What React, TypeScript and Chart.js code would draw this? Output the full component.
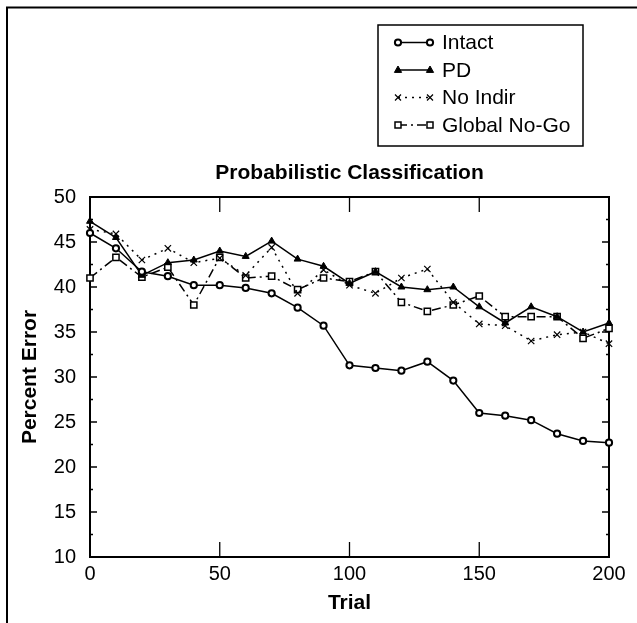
import React, { useEffect, useRef } from 'react';
import { Chart, registerables } from 'chart.js';

Chart.register(...registerables);

const trials = [0, 10, 20, 30, 40, 50, 60, 70, 80, 90, 100, 110, 120, 130, 140, 150, 160, 170, 180, 190, 200];
const intact = [46.0, 44.3, 41.7, 41.2, 40.2, 40.2, 39.9, 39.3, 37.7, 35.7, 31.3, 31.0, 30.7, 31.7, 29.6, 26.0, 25.7, 25.2, 23.7, 22.9, 22.7];
const pd = [47.3, 45.5, 41.3, 42.7, 43.0, 44.0, 43.4, 45.1, 43.1, 42.3, 40.4, 41.7, 40.0, 39.7, 40.0, 37.8, 36.0, 37.8, 36.7, 35.0, 36.0];
const noIndir = [46.4, 45.9, 43.0, 44.3, 42.7, 43.2, 41.3, 44.4, 39.3, 41.9, 40.2, 39.3, 41.0, 42.0, 38.3, 35.9, 35.7, 34.0, 34.7, 35.0, 33.7];
const globalNoGo = [41.0, 43.3, 41.1, 42.2, 38.0, 43.3, 41.0, 41.2, 39.7, 41.0, 40.6, 41.7, 38.3, 37.3, 38.0, 39.0, 36.7, 36.7, 36.7, 34.3, 35.4];

const seriesNames = ['Intact', 'PD', 'No Indir', 'Global No-Go'];
const chartTitle = 'Probabilistic Classification';
const xTitle = 'Trial';
const yTitle = 'Percent Error';

const FONT = '"Liberation Sans", Arial, Helvetica, sans-serif';

type Kind = 'circle' | 'triangle' | 'cross' | 'rect';
const kinds: Kind[] = ['circle', 'triangle', 'cross', 'rect'];
const dashes: number[][] = [[], [], [2, 5], [9, 4, 2, 4]];

function drawMarker(ctx: CanvasRenderingContext2D, kind: Kind, x: number, y: number) {
  ctx.save();
  ctx.setLineDash([]);
  ctx.strokeStyle = '#000';
  switch (kind) {
    case 'circle':
      ctx.beginPath();
      ctx.arc(x, y, 3.1, 0, Math.PI * 2);
      ctx.fillStyle = '#fff';
      ctx.fill();
      ctx.lineWidth = 2;
      ctx.stroke();
      break;
    case 'triangle':
      ctx.beginPath();
      ctx.moveTo(x, y - 4);
      ctx.lineTo(x + 3.6, y + 2.4);
      ctx.lineTo(x - 3.6, y + 2.4);
      ctx.closePath();
      ctx.fillStyle = '#000';
      ctx.fill();
      ctx.lineWidth = 1;
      ctx.stroke();
      break;
    case 'cross':
      ctx.lineWidth = 1.2;
      ctx.beginPath();
      ctx.moveTo(x - 3, y - 3);
      ctx.lineTo(x + 3, y + 3);
      ctx.moveTo(x + 3, y - 3);
      ctx.lineTo(x - 3, y + 3);
      ctx.stroke();
      break;
    case 'rect':
      ctx.fillStyle = '#fff';
      ctx.fillRect(x - 3, y - 3, 6, 6);
      ctx.lineWidth = 1.5;
      ctx.strokeRect(x - 3, y - 3, 6, 6);
      break;
  }
  ctx.restore();
}

const axesPlugin = {
  id: 'axesFrame',
  beforeDatasetsDraw(chart: any) {
    const { ctx, chartArea: a, scales } = chart;
    const xs = scales.x;
    const ys = scales.y;
    ctx.save();
    ctx.strokeStyle = '#000';
    ctx.lineWidth = 1.3;
    ctx.beginPath();
    for (let v = 10; v <= 50; v += 2.5) {
      const y = ys.getPixelForValue(v);
      const len = v % 5 === 0 ? 7 : 3;
      ctx.moveTo(a.left, y);
      ctx.lineTo(a.left + len, y);
      ctx.moveTo(a.right, y);
      ctx.lineTo(a.right - len, y);
    }
    for (const v of [50, 100, 150]) {
      const x = xs.getPixelForValue(v);
      ctx.moveTo(x, a.bottom);
      ctx.lineTo(x, a.bottom - 15);
      ctx.moveTo(x, a.top);
      ctx.lineTo(x, a.top + 15);
    }
    ctx.stroke();
    ctx.lineWidth = 2;
    ctx.strokeRect(a.left, a.top, a.right - a.left, a.bottom - a.top);
    ctx.restore();
  },
  afterDraw(chart: any) {
    const { ctx } = chart;
    ctx.save();
    // outer frame (top and left edges)
    ctx.strokeStyle = '#000';
    ctx.lineWidth = 2;
    ctx.beginPath();
    ctx.moveTo(7, 623);
    ctx.lineTo(7, 7.5);
    ctx.lineTo(637, 7.5);
    ctx.stroke();
    // legend box
    const bx = 378, by = 25, bw = 205, bh = 121;
    ctx.fillStyle = '#fff';
    ctx.fillRect(bx, by, bw, bh);
    ctx.lineWidth = 1.5;
    ctx.strokeRect(bx, by, bw, bh);
    const x1 = 398, x2 = 430;
    seriesNames.forEach((name, i) => {
      const y = 42.5 + i * 27.5;
      ctx.save();
      ctx.lineWidth = 1.5;
      ctx.setLineDash(dashes[i]);
      ctx.beginPath();
      ctx.moveTo(x1, y);
      ctx.lineTo(x2, y);
      ctx.stroke();
      ctx.restore();
      drawMarker(ctx, kinds[i], x1, y);
      drawMarker(ctx, kinds[i], x2, y);
      ctx.fillStyle = '#000';
      ctx.font = `21px ${FONT}`;
      ctx.textAlign = 'left';
      ctx.textBaseline = 'middle';
      ctx.fillText(name, 442, y + 1);
    });
    ctx.restore();
  },
};

export default function App() {
  const ref = useRef<HTMLCanvasElement | null>(null);

  useEffect(() => {
    if (!ref.current) return;
    const mk = (values: number[]) => trials.map((t, i) => ({ x: t, y: values[i] }));
    const chart = new Chart(ref.current, {
      type: 'line',
      data: {
        datasets: [
          {
            label: seriesNames[0],
            data: mk(intact),
            borderColor: '#000',
            borderWidth: 1.5,
            pointStyle: 'circle',
            pointRadius: 3.1,
            pointBorderWidth: 2,
            pointBackgroundColor: '#fff',
            pointBorderColor: '#000',
            clip: false,
          },
          {
            label: seriesNames[1],
            data: mk(pd),
            borderColor: '#000',
            borderWidth: 1.5,
            pointStyle: 'triangle',
            pointRadius: 4,
            pointBorderWidth: 1,
            pointBackgroundColor: '#000',
            pointBorderColor: '#000',
            clip: false,
          },
          {
            label: seriesNames[2],
            data: mk(noIndir),
            borderColor: '#000',
            borderWidth: 1.5,
            borderDash: dashes[2],
            pointStyle: 'crossRot',
            pointRadius: 4.5,
            pointBorderWidth: 1.2,
            pointBorderColor: '#000',
            clip: false,
          },
          {
            label: seriesNames[3],
            data: mk(globalNoGo),
            borderColor: '#000',
            borderWidth: 1.5,
            borderDash: dashes[3],
            pointStyle: 'rect',
            pointRadius: 4.4,
            pointBorderWidth: 1.5,
            pointBackgroundColor: '#fff',
            pointBorderColor: '#000',
            clip: false,
          },
        ],
      },
      options: {
        animation: false,
        responsive: false,
        devicePixelRatio: 1,
        events: [],
        layout: { padding: { left: 0, right: 28, top: 0, bottom: 0 } },
        plugins: {
          legend: { display: false },
          tooltip: { enabled: false },
          title: {
            display: true,
            text: chartTitle,
            fullSize: false,
            color: '#000',
            font: { family: FONT, size: 21, weight: 'bold', lineHeight: 1.2 },
            padding: { top: 160.4, bottom: 11.4 },
          },
        },
        scales: {
          x: {
            type: 'linear',
            min: 0,
            max: 200,
            afterFit: (s: any) => {
              s.height = 66;
            },
            ticks: {
              stepSize: 50,
              color: '#000',
              padding: 5,
              maxRotation: 0,
              font: { family: FONT, size: 20 },
            },
            grid: { display: false, drawTicks: false },
            border: { display: false },
            title: {
              display: true,
              text: xTitle,
              color: '#000',
              font: { family: FONT, size: 21, weight: 'bold', lineHeight: 1.2 },
              padding: { top: 0, bottom: 7.4 },
            },
          },
          y: {
            type: 'linear',
            min: 10,
            max: 50,
            afterFit: (s: any) => {
              s.width = 90;
            },
            ticks: {
              stepSize: 5,
              color: '#000',
              padding: 14,
              font: { family: FONT, size: 20 },
            },
            grid: { display: false, drawTicks: false },
            border: { display: false },
            title: {
              display: true,
              text: yTitle,
              color: '#000',
              font: { family: FONT, size: 21, weight: 'bold', lineHeight: 1.2 },
              padding: { top: 17.4, bottom: 0 },
            },
          },
        },
      },
      plugins: [axesPlugin],
    } as any);
    return () => chart.destroy();
  }, []);

  return (
    <div style={{ position: 'absolute', left: 0, top: 0, width: 637, height: 623, background: '#fff' }}>
      <canvas ref={ref} width={637} height={623} style={{ display: 'block', width: 637, height: 623 }} />
    </div>
  );
}
